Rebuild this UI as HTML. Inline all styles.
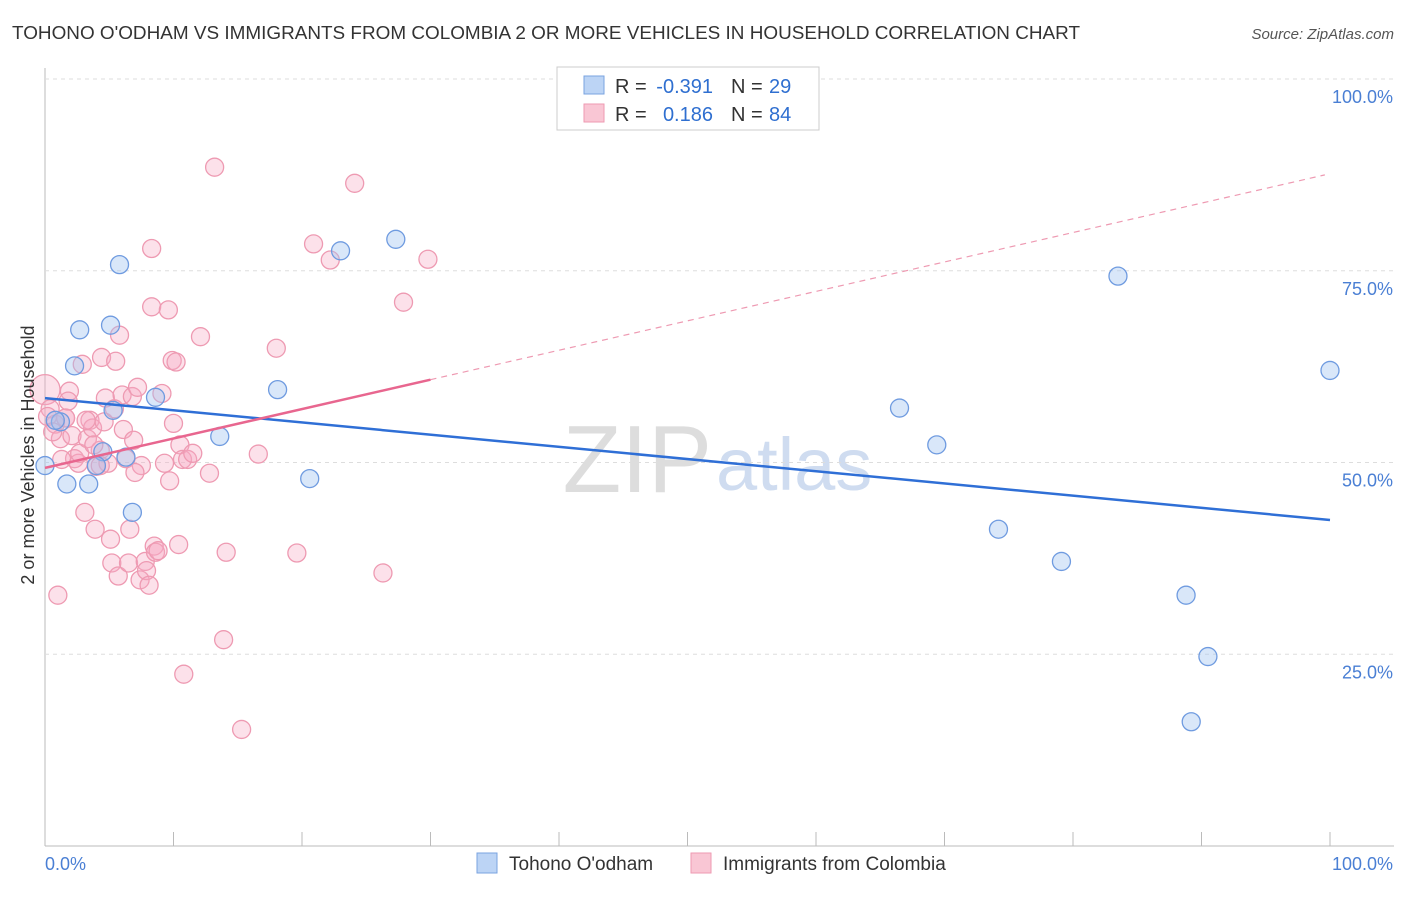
<!DOCTYPE html>
<html><head><meta charset="utf-8"><style>
body{margin:0;background:#fff;font-family:"Liberation Sans",sans-serif;}
svg text{font-family:"Liberation Sans",sans-serif;}
</style></head><body>
<svg id="c" width="1406" height="892">
<text x="12" y="39" font-size="18" fill="#333" textLength="1068" lengthAdjust="spacingAndGlyphs">TOHONO O'ODHAM VS IMMIGRANTS FROM COLOMBIA 2 OR MORE VEHICLES IN HOUSEHOLD CORRELATION CHART</text>
<text x="1394" y="39" font-size="15" fill="#555" font-style="italic" text-anchor="end">Source: ZipAtlas.com</text>
<text x="712" y="492" font-size="96" fill="#ddd" text-anchor="end" font-family="Liberation Serif">ZIP</text>
<text x="716" y="490" font-size="74" fill="#cfdcf0">atlas</text>
<g id="grid"></g><g id="pts"></g><g id="lines"></g>
<text transform="translate(34,455) rotate(-90)" font-size="18" fill="#333" text-anchor="middle">2 or more Vehicles in Household</text>
<text x="45" y="870" font-size="18" fill="#4a7fd4">0.0%</text>
<text x="1393" y="870" font-size="18" fill="#4a7fd4" text-anchor="end">100.0%</text>
<g>
<rect x="557" y="67" width="262" height="63" fill="#fff" stroke="#ccc"/>
<rect x="584" y="76" width="20" height="18" fill="#bcd4f5" stroke="#7aa3e0"/>
<rect x="584" y="104" width="20" height="18" fill="#f9c6d4" stroke="#ee9ab2"/>
<g font-size="20" fill="#333">
<text x="615" y="93">R =</text><text x="713" y="93" text-anchor="end" fill="#2f6fd0">-0.391</text>
<text x="731" y="93">N =</text><text x="769" y="93" fill="#2f6fd0">29</text>
<text x="615" y="121">R =</text><text x="713" y="121" text-anchor="end" fill="#2f6fd0">0.186</text>
<text x="731" y="121">N =</text><text x="769" y="121" fill="#2f6fd0">84</text>
</g>
</g>
<g>
<rect x="477" y="853" width="20" height="20" fill="#bcd4f5" stroke="#7aa3e0"/>
<text x="509" y="870" font-size="19" fill="#333">Tohono O'odham</text>
<rect x="691" y="853" width="20" height="20" fill="#f9c6d4" stroke="#ee9ab2"/>
<text x="723" y="870" font-size="19" fill="#333">Immigrants from Colombia</text>
</g>
</svg>
<script>
const yTicks=[25,50,75,100];
const yTickLabels=["25.0%","50.0%","75.0%","100.0%"];
const blueX=[0,1.7,3.4,2.3,2.7,5.1,5.8,1.2,5.3,4.5,4.0,6.3,6.8,8.6,13.6,18.1,20.6,23.0,27.3,66.5,69.4,74.2,79.1,83.5,88.8,90.5,89.2,100,0.8];
const blueY=[49.6,47.2,47.2,62.6,67.3,67.9,75.8,55.3,56.8,51.4,49.6,50.7,43.5,58.5,53.4,59.5,47.9,77.6,79.1,57.1,52.3,41.3,37.1,74.3,32.7,24.7,16.2,62.0,55.5];
const pinkX=[0,1,0.4,0.8,1.2,1.6,1.9,1.8,2.1,2.3,2.6,2.7,2.9,3.1,3.3,3.5,3.7,3.9,4.0,4.3,4.4,4.6,4.7,4.9,5.1,5.2,5.4,5.5,5.7,5.8,6.0,6.1,6.3,6.5,6.6,6.8,6.9,7.2,7.4,7.5,7.8,7.9,8.1,8.3,8.3,8.5,8.6,8.8,9.1,9.3,9.6,9.7,9.9,10.0,10.2,10.4,10.5,10.7,10.8,11.1,12.1,12.8,13.2,13.9,14.1,15.3,16.6,18.0,19.6,20.9,22.2,24.1,26.3,27.9,29.8,0.2,0.6,1.3,1.6,3.2,3.8,4.3,7.0,11.5];
const pinkY=[59.5,32.7,57.0,55.0,53.1,55.8,59.3,58.0,53.5,50.5,49.9,51.2,62.8,43.5,53.1,55.5,54.5,41.3,49.5,51.6,63.7,55.3,58.4,49.9,40.0,36.9,57.0,63.2,35.2,66.6,58.8,54.3,50.5,36.9,41.3,58.6,52.9,59.8,34.7,49.6,37.1,35.9,34.0,77.9,70.3,39.1,38.3,38.5,59.0,49.9,69.9,47.6,63.3,55.1,63.1,39.3,52.3,50.4,22.4,50.4,66.4,48.6,88.5,26.9,38.3,15.2,51.1,64.9,38.2,78.5,76.4,86.4,35.6,70.9,76.5,56.0,54.0,50.4,55.8,55.5,52.3,49.6,48.7,51.2];
const blueTrend=[0,58.4,100,42.5];
const pinkTrend=[0,49.3,30,60.8,99.6,87.5];
const sx=v=>45+v*12.85, sy=v=>846-v*7.67;
const NS="http://www.w3.org/2000/svg";
function mk(t,a,p){const e=document.createElementNS(NS,t);for(const k in a)e.setAttribute(k,a[k]);p.appendChild(e);return e;}
const grid=document.getElementById('grid');
let ax=mk('line',{x1:45,y1:68,x2:45,y2:846,stroke:'#bbb'},grid);


let bx=mk('line',{x1:45,y1:846,x2:1394,y2:846,stroke:'#bbb'},grid);


for(let i=0;i<=10;i++){let t=mk('line',{x1:sx(i*10),y1:832,x2:sx(i*10),y2:846,stroke:'#bbb'},grid);

}
yTicks.forEach((v,i)=>{let g=mk('line',{x1:45,y1:sy(v),x2:1394,y2:sy(v),stroke:'#ddd','stroke-dasharray':'4,4'},grid);


let t=mk('text',{x:1393,y:sy(v)+24,'font-size':18,fill:'#4a7fd4','text-anchor':'end'},grid);t.textContent=yTickLabels[i];

});
const pts=document.getElementById('pts');
pinkX.forEach((x,i)=>{let c=mk('circle',{cx:sx(x),cy:sy(pinkY[i]),r:i==0?15:9,fill:'rgba(246,170,195,0.35)',stroke:'#ee9ab2','stroke-width':1.3},pts);

});
blueX.forEach((x,i)=>{let c=mk('circle',{cx:sx(x),cy:sy(blueY[i]),r:9,fill:'rgba(160,195,240,0.4)',stroke:'#6f9be0','stroke-width':1.3},pts);

});
const L=document.getElementById('lines');
let b=mk('line',{x1:sx(blueTrend[0]),y1:sy(blueTrend[1]),x2:sx(blueTrend[2]),y2:sy(blueTrend[3]),stroke:'#2f6fd6','stroke-width':2.5},L);


let p=mk('line',{x1:sx(pinkTrend[0]),y1:sy(pinkTrend[1]),x2:sx(pinkTrend[2]),y2:sy(pinkTrend[3]),stroke:'#e8668f','stroke-width':2.5},L);


let pd=mk('line',{x1:sx(pinkTrend[2]),y1:sy(pinkTrend[3]),x2:sx(pinkTrend[4]),y2:sy(pinkTrend[5]),stroke:'#ee9ab2','stroke-width':1.2,'stroke-dasharray':'6,5'},L);


</script>
</body></html>
